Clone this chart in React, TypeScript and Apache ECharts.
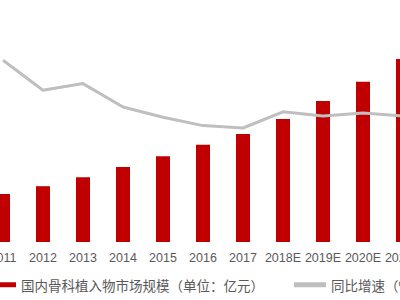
import React, { useEffect, useRef } from "react";
import * as echarts from "echarts";

const categories = ["2011", "2012", "2013", "2014", "2015", "2016", "2017", "2018E", "2019E", "2020E", "2021E"];
const marketSize = [80, 93, 108, 125, 143, 162, 180, 205, 235, 267, 305];
const growthRate = [30.3, 25.3, 26.4, 22.5, 20.8, 19.4, 19.0, 21.7, 21.0, 21.5, 21.0];
const barName = "国内骨科植入物市场规模（单位：亿元）";
const lineName = "同比增速（%）";

export default function App() {
  const ref = useRef<HTMLDivElement>(null);
  useEffect(() => {
    if (!ref.current) return;
    const chart = echarts.init(ref.current, null, { renderer: "svg" });
    chart.setOption({
      animation: false,
      grid: { left: 10, right: 10, top: 2, bottom: 58, containLabel: false },
      legend: {
        left: 11,
        top: 278,
        padding: 0,
        itemWidth: 32,
        itemHeight: 5,
        itemGap: 30,
        textStyle: { color: "#595959", fontSize: 13.5, fontFamily: "Noto Sans CJK SC" },
        data: [
          { name: barName, icon: "rect" },
          { name: lineName, icon: "rect" },
        ],
      },
      xAxis: {
        type: "category",
        data: categories,
        axisLine: { show: false },
        axisTick: { show: false },
        axisLabel: {
          interval: 0,
          hideOverlap: false,
          color: "#595959",
          fontSize: 12.5,
          margin: 9,
          fontFamily: "Arial, Liberation Sans, sans-serif",
        },
      },
      yAxis: [
        { type: "value", min: 0, max: 400, show: false, splitLine: { show: false } },
        { type: "value", min: 0, max: 40, show: false, splitLine: { show: false } },
      ],
      series: [
        {
          name: barName,
          type: "bar",
          data: marketSize,
          barWidth: 14,
          itemStyle: { color: "#C00000" },
        },
        {
          name: lineName,
          type: "line",
          yAxisIndex: 1,
          data: growthRate,
          symbol: "none",
          lineStyle: { color: "#BFBFBF", width: 3 },
          itemStyle: { color: "#BFBFBF" },
        },
      ],
    });
    return () => chart.dispose();
  }, []);
  return (
    <div
      ref={ref}
      style={{ position: "absolute", left: -27, top: 0, width: 460, height: 300 }}
    />
  );
}
